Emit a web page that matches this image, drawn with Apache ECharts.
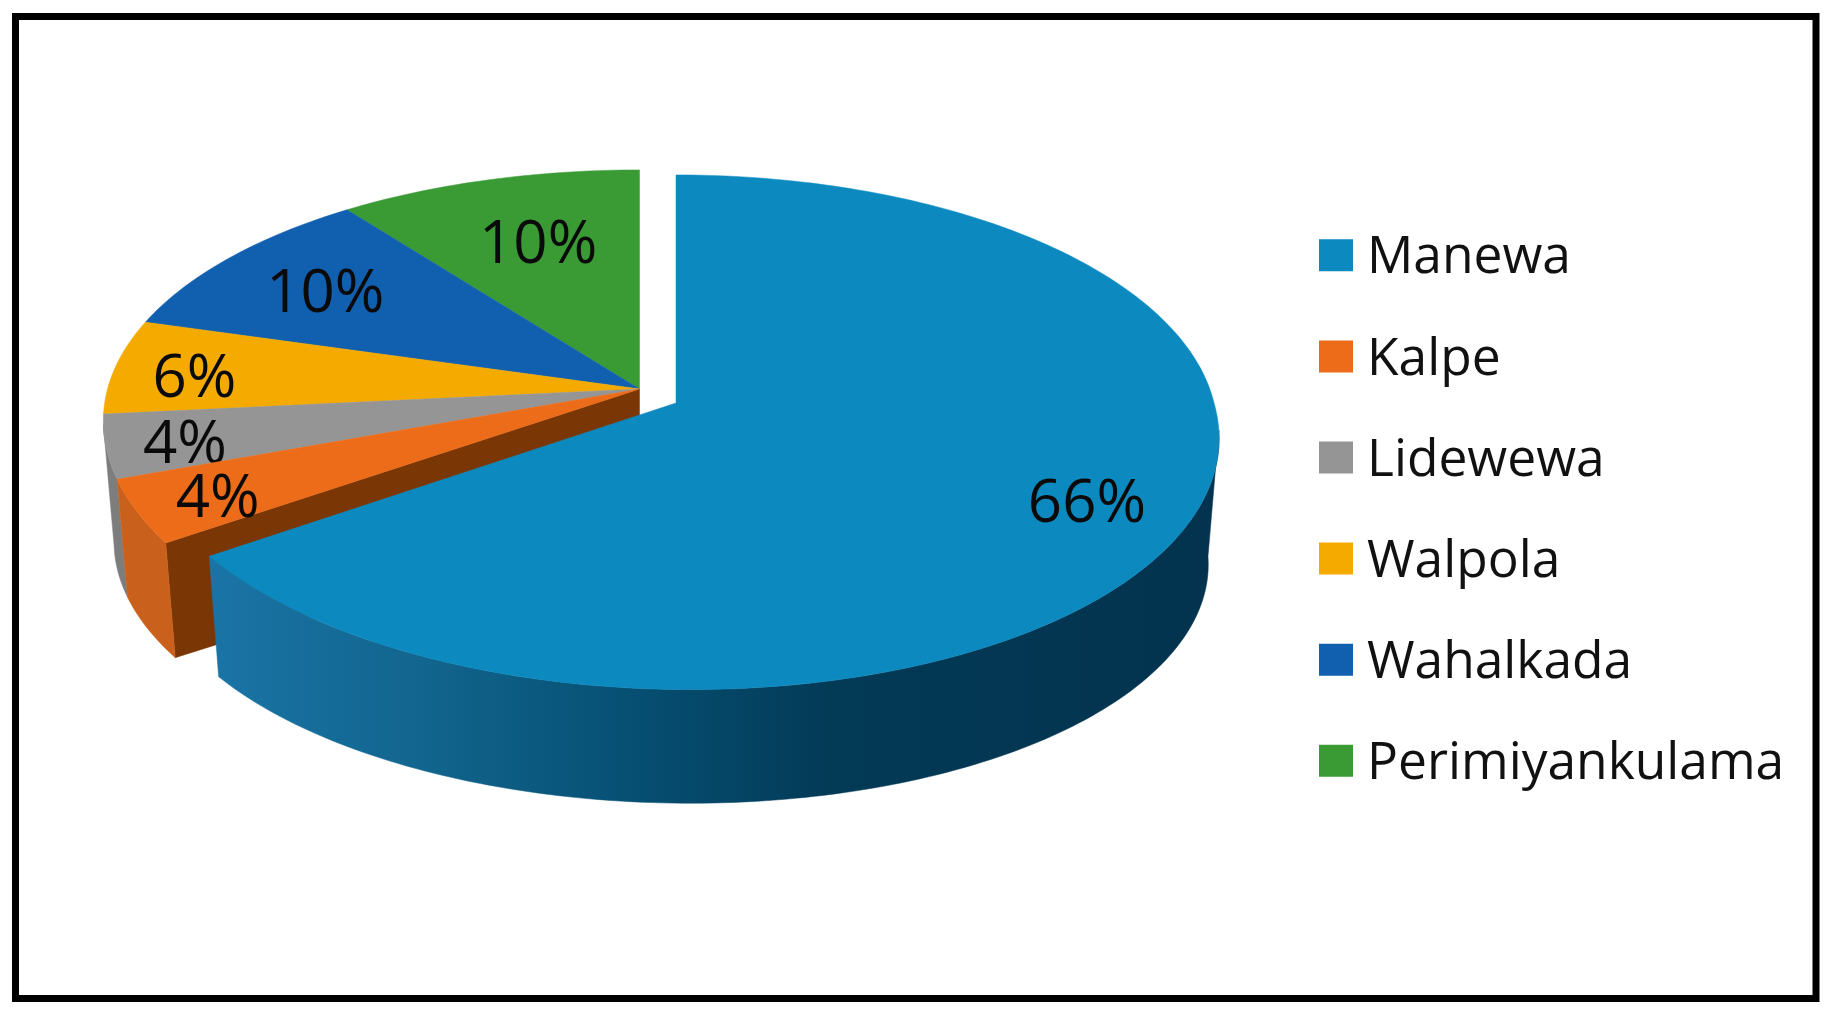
<!DOCTYPE html>
<html>
<head>
<meta charset="utf-8">
<style>html,body{margin:0;padding:0;background:#fff}#c{width:1833px;height:1014px}</style>
<script src="https://cdn.jsdelivr.net/npm/echarts@6/dist/echarts.min.js"></script>
</head>
<body>
<div id="c"></div>
<script>
const categories = ['Manewa', 'Kalpe', 'Lidewewa', 'Walpola', 'Wahalkada', 'Perimiyankulama'];
const shares = [66, 4, 4, 6, 10, 10];
const topColors = ['#0c8ac0', '#ec6c1a', '#959595', '#f5aa00', '#1160b0', '#3a9a34'];

// Perspective model of the tilted disc (one set for the pulled-out slice, one for the rest)
const FONT = 'Open Sans', A = 254, K = 0.1136, SCX = 0.98, SCY = 0.95;
const GEO_MAIN = { hub: [676, 403], rim: [676, 403], B: 538, Kx: 0.1136, shear: 0.05, depth: 128, trim: -2 };
const GEO_REST = { hub: [639.5, 389], rim: [639.5, 398], B: 534, Kx: 0.09, shear: 0, depth: 122, trim: 0 };
const labelNudge = [[92, 19], [-94, 38], [-105, 26], [-100, 11], [-42, -1], [0, 4]];
const drawOrder = [5, 4, 3, 2, 1, 0];

const total = shares.reduce((a, b) => a + b, 0);
const starts = [];
shares.reduce((acc, v, i) => { starts[i] = acc; return acc + v / total * 360; }, 0);

function pt(g, r, deg, low) {
  const t = deg * Math.PI / 180, u = Math.sin(t) * r, v = Math.cos(t) * r;
  const Y = -A * v / (1 + K * v);
  const X = g.B * u / (1 + g.Kx * v) + g.shear * Math.max(0, Y);
  return low ? [g.rim[0] + X * SCX, g.rim[1] + g.depth + Y * SCY] : [g.rim[0] + X, g.rim[1] + Y];
}
function labelAnchor(hub, deg) {
  const t = deg * Math.PI / 180, u = Math.sin(t) * 0.65, v = Math.cos(t) * 0.65, s = 1 / (1 + K * v);
  return [hub[0] + 540 * u * s, hub[1] - A * v * s];
}
function arc(g, a0, a1, low) {
  const out = [], n = Math.max(2, Math.ceil(Math.abs(a1 - a0)));
  for (let i = 0; i <= n; i++) out.push(pt(g, 1, a0 + (a1 - a0) * i / n, low));
  return out;
}
function poly(points, fill) {
  return { type: 'polygon', shape: { points }, style: { fill, stroke: fill, lineWidth: 0.5 } };
}
function wall(g, a0, a1, fill) {
  return poly(arc(g, a0, a1, false).concat(arc(g, a1, a0, true)), fill);
}
const mainWallFill = new echarts.graphic.LinearGradient(0, 0, 1, 0, [
  { offset: 0, color: '#1a74a6' }, { offset: 0.2, color: '#12668f' }, { offset: 0.42, color: '#064f73' },
  { offset: 0.62, color: '#033a56' }, { offset: 1, color: '#03334e' }
]);

function renderSlice(i) {
  return function (params, api) {
    const value = api.value(0), sweep = value / total * 360, a0 = starts[i];
    const g = i === 0 ? GEO_MAIN : GEO_REST, a1 = a0 + sweep + g.trim;
    const color = api.visual('color'), children = [];
    if (i === 0) {
      children.push(wall(g, 96, a1, mainWallFill));
    } else if (i === 1) {
      const inner = [g.hub, pt(g, 1, a0, false), pt(g, 1, a0, true), [g.hub[0], g.hub[1] + g.depth]];
      children.push(poly(inner, '#7a3605'));
      children.push(wall(g, a0, a1, '#c9611c'));
    } else if (i === 2) {
      children.push(wall(g, a0, 264, '#7d7d7d'));
    }
    children.push(poly([g.hub].concat(arc(g, a0, a1, false)), color));
    const mid = labelAnchor(g.hub, a0 + sweep / 2);
    children.push({
      type: 'text',
      style: {
        x: mid[0] + labelNudge[i][0], y: mid[1] + labelNudge[i][1], text: value + '%',
        fill: '#0a0a0a', font: '60px "' + FONT + '"', textAlign: 'center', textVerticalAlign: 'middle'
      }
    });
    return { type: 'group', children };
  };
}

const chart = echarts.init(document.getElementById('c'), null, { renderer: 'canvas' });
chart.setOption({
  animation: false,
  backgroundColor: '#ffffff',
  legend: {
    orient: 'vertical', left: 1319, top: 225.8, padding: 0, data: categories, icon: 'rect',
    itemWidth: 34, itemHeight: 32, itemGap: 42.1, selectedMode: false,
    formatter: '{t|{name}}',
    textStyle: {
      fontFamily: FONT, fontSize: 51.5, color: '#111', padding: [0, 0, 0, 9],
      rich: { t: { fontFamily: FONT, fontSize: 51.5, color: '#111', lineHeight: 70, padding: [7, 0, 0, 0] } }
    }
  },
  graphic: [{
    type: 'rect', z: 100, silent: true,
    shape: { x: 15.5, y: 16.5, width: 1800.5, height: 982 },
    style: { fill: 'none', stroke: '#000', lineWidth: 7 }
  }],
  series: categories.map((name, i) => ({
    type: 'custom', name, coordinateSystem: 'none',
    z: 2 + drawOrder.indexOf(i),
    itemStyle: { color: topColors[i] },
    data: [[shares[i]]],
    renderItem: renderSlice(i),
    silent: true
  }))
});
</script>
</body>
</html>
